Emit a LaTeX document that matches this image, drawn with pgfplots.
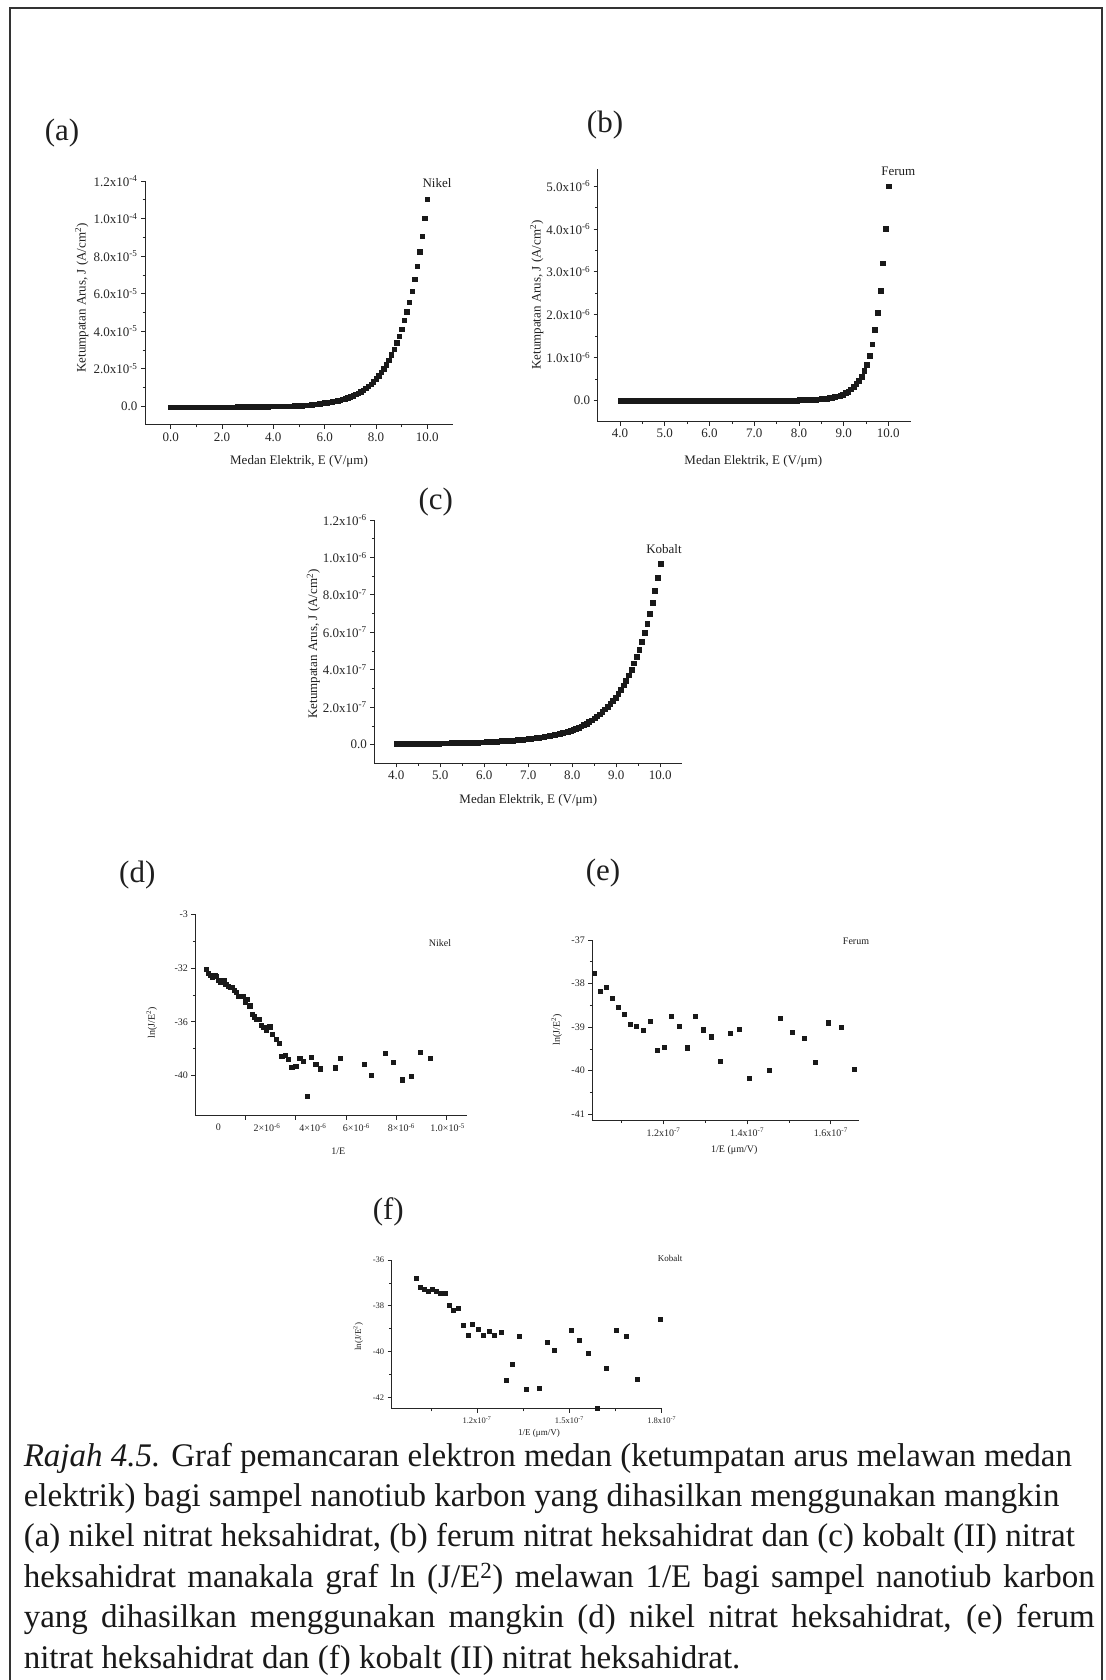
\documentclass[border=0pt]{standalone}
\usepackage{pgfplots}
\pgfplotsset{compat=1.18}
\usepackage{fontspec}
\setmainfont{Liberation Serif}

\newcommand{\sups}[1]{\textsuperscript{#1}}
\pgfplotsset{
  panel/.style={scale only axis, axis x line*=bottom, axis y line*=left, tick align=outside,
    axis line style={line width=1pt, black!85}, major tick style={line width=0.8pt, black!85},
    minor tick style={line width=0.6pt, black!85}, major tick length=4pt, minor tick length=2.5pt,
    clip=false, anchor=south west, minor x tick num=1, minor y tick num=1},
  big/.style={tick label style={font=\fontsize{13}{15}\selectfont, text=black!85}},
  small/.style={tick label style={font=\fontsize{10}{12}\selectfont, text=black!85}},
  sq/.style={only marks, mark=square*, mark size=2.2pt, mark options={fill=black!90, draw=black!90, line width=0.3pt}},
}

\begin{document}
\begin{tikzpicture}[x=1pt,y=1pt]
\useasboundingbox (0,0) rectangle (1105,1680);
\fill[white] (0,0) rectangle (1105,1680);
\draw[line width=2pt, black!80] (10,-10) -- (10,1672) -- (1102,1672) -- (1102,-10);

% ---------------- (a) Nikel ----------------
\begin{axis}[panel, big, at={(145pt,1255pt)}, width=308pt, height=244pt,
  xmin=-1, xmax=11, ymin=-10, ymax=120,
  xtick={0,2,4,6,8,10}, xticklabels={0.0,2.0,4.0,6.0,8.0,10.0},
  ytick={0,20,40,60,80,100,120},
  yticklabels={{0.0},{2.0x10\sups{-5}},{4.0x10\sups{-5}},{6.0x10\sups{-5}},{8.0x10\sups{-5}},{1.0x10\sups{-4}},{1.2x10\sups{-4}}}]
\addplot[sq] coordinates {
(0.0,-0.60)(0.1,-0.59)(0.2,-0.58)(0.3,-0.57)(0.4,-0.56)(0.5,-0.55)(0.6,-0.54)(0.7,-0.53)(0.8,-0.52)(0.9,-0.51)
(1.0,-0.50)(1.1,-0.49)(1.2,-0.48)(1.3,-0.47)(1.4,-0.46)(1.5,-0.45)(1.6,-0.44)(1.7,-0.43)(1.8,-0.42)(1.9,-0.41)
(2.0,-0.40)(2.1,-0.39)(2.2,-0.38)(2.3,-0.37)(2.4,-0.36)(2.5,-0.35)(2.6,-0.34)(2.7,-0.33)(2.8,-0.32)(2.9,-0.31)
(3.0,-0.30)(3.1,-0.28)(3.2,-0.26)(3.3,-0.24)(3.4,-0.22)(3.5,-0.20)(3.6,-0.18)(3.7,-0.16)(3.8,-0.14)(3.9,-0.12)
(4.0,-0.10)(4.1,-0.07)(4.2,-0.04)(4.3,-0.01)(4.4,0.02)(4.5,0.05)(4.6,0.10)(4.7,0.15)(4.8,0.20)(4.9,0.25)
(5.0,0.30)(5.1,0.40)(5.2,0.50)(5.3,0.60)(5.4,0.70)(5.5,0.85)(5.6,1.00)(5.7,1.10)(5.8,1.30)(5.9,1.50)
(6.0,1.80)(6.1,2.0)(6.2,2.2)(6.3,2.4)(6.4,2.7)(6.5,3.0)(6.6,3.3)(6.7,3.7)(6.8,4.1)(6.9,4.6)
(7.0,5.1)(7.1,5.6)(7.2,6.3)(7.3,7.0)(7.4,7.7)(7.5,8.6)(7.6,9.6)(7.7,10.6)(7.8,11.8)(7.9,13.1)
(8.0,14.6)(8.1,16.2)(8.2,18.0)(8.3,20.0)(8.4,22.2)(8.5,24.6)(8.6,27.4)(8.7,30.4)(8.8,33.8)(8.9,37.3)
(9.0,41.2)(9.1,45.7)(9.2,50.3)(9.3,55.5)(9.4,61.3)(9.5,67.6)(9.6,74.7)(9.7,82.3)(9.8,90.7)(9.9,100.1)(10.0,110.4)};
\end{axis}

% ---------------- (b) Ferum ----------------
\begin{axis}[panel, big, at={(597.7pt,1258.3pt)}, width=313pt, height=252.7pt,
  xmin=3.5, xmax=10.5, ymin=-0.5, ymax=5.4,
  xtick={4,5,6,7,8,9,10}, xticklabels={4.0,5.0,6.0,7.0,8.0,9.0,10.0},
  ytick={0,1,2,3,4,5},
  yticklabels={{0.0},{1.0x10\sups{-6}},{2.0x10\sups{-6}},{3.0x10\sups{-6}},{4.0x10\sups{-6}},{5.0x10\sups{-6}}}]
\addplot[sq, mark size=2.4pt] coordinates {
(10.00,5.00)(9.94,4.00)(9.88,3.20)(9.82,2.56)(9.76,2.05)(9.70,1.64)(9.64,1.31)(9.58,1.05)(9.52,0.84)(9.46,0.69)
(9.40,0.56)(9.34,0.46)(9.28,0.38)(9.22,0.31)(9.16,0.26)(9.10,0.21)(9.04,0.17)(8.98,0.14)(8.92,0.115)(8.86,0.094)
(8.80,0.077)(8.74,0.063)(8.68,0.052)(8.62,0.043)(8.56,0.035)(8.50,0.029)(8.44,0.024)(8.38,0.019)(8.32,0.016)(8.26,0.013)
(8.20,0.011)(8.14,0.009)(8.08,0.007)(8.02,0.006)(7.96,0)(7.90,0)(7.84,0)(7.78,0)(7.72,0)(7.66,0)
(7.60,0)(7.54,0)(7.48,0)(7.42,0)(7.36,0)(7.30,0)(7.24,0)(7.18,0)(7.12,0)(7.06,0)
(7.00,0)(6.94,0)(6.88,0)(6.82,0)(6.76,0)(6.70,0)(6.64,0)(6.58,0)(6.52,0)(6.46,0)
(6.40,0)(6.34,0)(6.28,0)(6.22,0)(6.16,0)(6.10,0)(6.04,0)(5.98,0)(5.92,0)(5.86,0)
(5.80,0)(5.74,0)(5.68,0)(5.62,0)(5.56,0)(5.50,0)(5.44,0)(5.38,0)(5.32,0)(5.26,0)
(5.20,0)(5.14,0)(5.08,0)(5.02,0)(4.96,0)(4.90,0)(4.84,0)(4.78,0)(4.72,0)(4.66,0)
(4.60,0)(4.54,0)(4.48,0)(4.42,0)(4.36,0)(4.30,0)(4.24,0)(4.18,0)(4.12,0)(4.06,0)(4.00,0)};
\end{axis}

% ---------------- (c) Kobalt ----------------
\begin{axis}[panel, big, at={(374.3pt,916.7pt)}, width=308pt, height=243.3pt,
  xmin=3.5, xmax=10.5, ymin=-1, ymax=12,
  xtick={4,5,6,7,8,9,10}, xticklabels={4.0,5.0,6.0,7.0,8.0,9.0,10.0},
  ytick={0,2,4,6,8,10,12},
  yticklabels={{0.0},{2.0x10\sups{-7}},{4.0x10\sups{-7}},{6.0x10\sups{-7}},{8.0x10\sups{-7}},{1.0x10\sups{-6}},{1.2x10\sups{-6}}}]
\addplot[sq, mark size=2.4pt] coordinates {
(10.00,9.67)(9.94,8.92)(9.88,8.24)(9.82,7.60)(9.76,7.01)(9.70,6.47)(9.64,5.97)(9.58,5.51)(9.52,5.08)(9.46,4.70)
(9.40,4.35)(9.34,4.01)(9.28,3.71)(9.22,3.43)(9.16,3.17)(9.10,2.94)(9.04,2.72)(8.98,2.52)(8.92,2.34)(8.86,2.18)
(8.80,2.03)(8.74,1.89)(8.68,1.75)(8.62,1.63)(8.56,1.52)(8.50,1.41)(8.44,1.31)(8.38,1.22)(8.32,1.13)(8.26,1.05)
(8.20,0.98)(8.14,0.91)(8.08,0.85)(8.02,0.79)(7.96,0.73)(7.90,0.69)(7.84,0.66)(7.78,0.62)(7.72,0.59)(7.66,0.56)
(7.60,0.53)(7.54,0.50)(7.48,0.47)(7.42,0.45)(7.36,0.42)(7.30,0.40)(7.24,0.38)(7.18,0.36)(7.12,0.34)(7.06,0.32)
(7.00,0.30)(6.94,0.29)(6.88,0.28)(6.82,0.26)(6.76,0.25)(6.70,0.24)(6.64,0.23)(6.58,0.22)(6.52,0.21)(6.46,0.20)
(6.40,0.19)(6.34,0.18)(6.28,0.17)(6.22,0.16)(6.16,0.15)(6.10,0.14)(6.04,0.14)(5.98,0.13)(5.92,0.13)(5.86,0.12)
(5.80,0.12)(5.74,0.12)(5.68,0.11)(5.62,0.11)(5.56,0.10)(5.50,0.10)(5.44,0.10)(5.38,0.09)(5.32,0.09)(5.26,0.09)
(5.20,0.08)(5.14,0.08)(5.08,0.08)(5.02,0.08)(4.96,0.07)(4.90,0.07)(4.84,0.07)(4.78,0.07)(4.72,0.06)(4.66,0.06)
(4.60,0.06)(4.54,0.06)(4.48,0.06)(4.42,0.05)(4.36,0.05)(4.30,0.05)(4.24,0.05)(4.18,0.05)(4.12,0.05)(4.06,0.05)(4.00,0.05)};
\end{axis}

% ---------------- (d) Nikel ln ----------------
\begin{axis}[panel, small, at={(195.4pt,564pt)}, width=271.3pt, height=201.7pt,
  xmin=0, xmax=10.8, ymin=-43, ymax=-28,
  xtick={2,4,6,8,10}, xticklabels={,,,,}, minor x tick num=0,
  extra x ticks={0.91,2.85,4.68,6.41,8.20,10.04},
  extra x tick labels={{0},{2×10\sups{-6}},{4×10\sups{-6}},{6×10\sups{-6}},{8×10\sups{-6}},{1.0×10\sups{-5}}},
  extra x tick style={major tick length=0pt, tick label style={yshift=-4pt}},
  ytick={-40,-36,-32,-28}, yticklabels={-40,-36,-32,-3}]
\addplot[sq, mark size=2.1pt] coordinates {
(0.437,-32.07)(0.517,-32.37)(0.596,-32.55)(0.676,-32.67)(0.769,-32.52)(0.835,-32.62)(0.914,-32.87)(0.994,-33.02)
(1.127,-32.92)(1.206,-33.17)(1.299,-33.37)(1.392,-33.42)(1.471,-33.44)(1.551,-33.62)(1.630,-33.82)(1.710,-34.06)
(1.789,-34.11)(1.895,-34.06)(1.975,-34.49)(2.068,-34.31)(2.161,-34.79)(2.253,-35.41)(2.333,-35.61)(2.425,-35.81)
(2.518,-35.78)(2.624,-36.26)(2.717,-36.41)(2.823,-36.63)(2.955,-36.36)(3.061,-36.91)(3.220,-37.31)(3.326,-37.61)
(3.433,-38.55)(3.565,-38.50)(3.698,-38.80)(3.830,-39.37)(3.989,-39.27)(4.148,-38.70)(4.281,-38.92)(4.440,-41.55)
(4.599,-38.60)(4.784,-39.15)(4.957,-39.48)(5.553,-39.40)(5.765,-38.70)(6.733,-39.17)(6.998,-39.97)(7.568,-38.35)
(7.886,-39.02)(8.218,-40.29)(8.576,-40.04)(8.947,-38.27)(9.331,-38.67)};
\end{axis}

% ---------------- (e) Ferum ln ----------------
\begin{axis}[panel, small, at={(592.3pt,559.7pt)}, width=267pt, height=180.3pt,
  xmin=1.03, xmax=1.668, ymin=-41.14, ymax=-37,
  xtick={1.2,1.4,1.6}, xticklabels={{1.2x10\sups{-7}},{1.4x10\sups{-7}},{1.6x10\sups{-7}}},
  extra x ticks={1.1}, extra x tick labels={}, extra x tick style={major tick length=2.5pt, major tick style={line width=0.6pt}},
  ytick={-41,-40,-39,-38,-37}, yticklabels={-41,-40,-39,-38,-37}]
\addplot[sq, mark size=2.1pt] coordinates {
(1.0351,-37.77)(1.0495,-38.17)(1.0630,-38.08)(1.0765,-38.33)(1.0909,-38.54)(1.1052,-38.70)(1.1196,-38.93)(1.1355,-38.98)
(1.1514,-39.07)(1.1673,-38.86)(1.1841,-39.53)(1.2016,-39.46)(1.2191,-38.75)(1.2374,-38.97)(1.2558,-39.47)(1.2749,-38.74)
(1.2948,-39.06)(1.3147,-39.22)(1.3362,-39.78)(1.3585,-39.14)(1.3816,-39.05)(1.4047,-40.17)(1.4533,-39.99)(1.4788,-38.80)
(1.5067,-39.11)(1.5353,-39.26)(1.5632,-39.81)(1.5927,-38.90)(1.6237,-39.00)(1.6564,-39.97)};
\end{axis}

% ---------------- (f) Kobalt ln ----------------
\begin{axis}[panel, tick label style={font=\fontsize{8.5}{10}\selectfont, text=black!85},
  at={(391.7pt,271pt)}, width=270pt, height=149pt,
  xmin=0.923, xmax=1.8, ymin=-42.5, ymax=-36,
  xtick={1.2,1.5,1.8}, xticklabels={{1.2x10\sups{-7}},{1.5x10\sups{-7}},{1.8x10\sups{-7}}},
  extra x ticks={1.05}, extra x tick labels={}, extra x tick style={major tick length=2.5pt, major tick style={line width=0.6pt}},
  ytick={-42,-40,-38,-36}, yticklabels={-42,-40,-38,-36}]
\addplot[sq, mark size=2.0pt] coordinates {
(1.0033,-36.80)(1.0152,-37.18)(1.0272,-37.25)(1.0402,-37.38)(1.0533,-37.27)(1.0674,-37.37)(1.0804,-37.44)(1.0957,-37.43)
(1.1087,-37.98)(1.1239,-38.17)(1.1380,-38.10)(1.1543,-38.84)(1.1707,-39.29)(1.1859,-38.78)(1.2033,-39.00)(1.2196,-39.28)
(1.2380,-39.10)(1.2565,-39.29)(1.2772,-39.13)(1.2957,-41.23)(1.3152,-40.53)(1.3370,-39.32)(1.3587,-41.62)(1.4033,-41.57)
(1.4272,-39.60)(1.4522,-39.94)(1.5043,-39.04)(1.5315,-39.51)(1.5598,-40.05)(1.5891,-42.45)(1.6196,-40.70)(1.6511,-39.06)
(1.6848,-39.33)(1.7196,-41.21)(1.7946,-38.56)};
\end{axis}

% ---------------- texts ----------------
\begin{scope}[every node/.style={text=black!88, inner sep=0pt}]
\node[font=\fontsize{31}{36}\selectfont] at (62,1547) {(a)};
\node[font=\fontsize{31}{36}\selectfont] at (605,1555) {(b)};
\node[font=\fontsize{31}{36}\selectfont] at (435.7,1178.3) {(c)};
\node[font=\fontsize{31}{36}\selectfont] at (137.3,805) {(d)};
\node[font=\fontsize{31}{36}\selectfont] at (603,807) {(e)};
\node[font=\fontsize{31}{36}\selectfont] at (388.3,468.3) {(f)};

\node[font=\fontsize{13}{15}\selectfont] at (437,1497) {Nikel};
\node[font=\fontsize{13}{15}\selectfont] at (898.3,1508.3) {Ferum};
\node[font=\fontsize{13}{15}\selectfont] at (664,1131) {Kobalt};
\node[font=\fontsize{10}{12}\selectfont] at (440,737.3) {Nikel};
\node[font=\fontsize{10}{12}\selectfont] at (856,739) {Ferum};
\node[font=\fontsize{9}{11}\selectfont] at (670,421.7) {Kobalt};

\node[font=\fontsize{13}{15}\selectfont, rotate=90] at (81.7,1382) {Ketumpatan Arus, J (A/cm\sups{2})};
\node[font=\fontsize{13}{15}\selectfont] at (299,1218.3) {Medan Elektrik, E (V/μm)};
\node[font=\fontsize{13}{15}\selectfont, rotate=90] at (536.7,1385) {Ketumpatan Arus, J (A/cm\sups{2})};
\node[font=\fontsize{13}{15}\selectfont] at (753.3,1219) {Medan Elektrik, E (V/μm)};
\node[font=\fontsize{13}{15}\selectfont, rotate=90] at (313.3,1036) {Ketumpatan Arus, J (A/cm\sups{2})};
\node[font=\fontsize{13}{15}\selectfont] at (528.3,880) {Medan Elektrik, E (V/μm)};

\node[font=\fontsize{10}{12}\selectfont, rotate=90] at (151.7,657) {ln(J/E\sups{2})};
\node[font=\fontsize{10}{12}\selectfont] at (338.3,528.3) {1/E};
\node[font=\fontsize{10}{12}\selectfont, rotate=90] at (556.7,650) {ln(J/E\sups{2})};
\node[font=\fontsize{10}{12}\selectfont] at (734.3,530) {1/E (μm/V)};
\node[font=\fontsize{9}{11}\selectfont, rotate=90] at (358.3,343.3) {ln(J/E\sups{2})};
\node[font=\fontsize{9}{11}\selectfont] at (539,247) {1/E (μm/V)};

% caption
\begin{scope}[every node/.style={anchor=base west, inner sep=0pt, text=black!90, font=\fontsize{33}{40}\selectfont}]
\node at (23.6,213) {\textit{Rajah 4.5.} Graf pemancaran elektron medan (ketumpatan arus melawan medan};
\node at (23.6,173) {elektrik) bagi sampel nanotiub karbon yang dihasilkan menggunakan mangkin};
\node at (23.6,133) {(a) nikel nitrat heksahidrat, (b) ferum nitrat heksahidrat dan (c) kobalt (II) nitrat};
\node at (23.6,92) {\makebox[1071pt][s]{heksahidrat manakala graf ln (J/E\sups{2}) melawan 1/E bagi sampel nanotiub karbon}};
\node at (23.6,52) {\makebox[1071pt][s]{yang dihasilkan menggunakan mangkin (d) nikel nitrat heksahidrat, (e) ferum}};
\node at (23.6,12) {nitrat heksahidrat dan (f) kobalt (II) nitrat heksahidrat.};
\end{scope}
\end{scope}
\end{tikzpicture}
\end{document}
